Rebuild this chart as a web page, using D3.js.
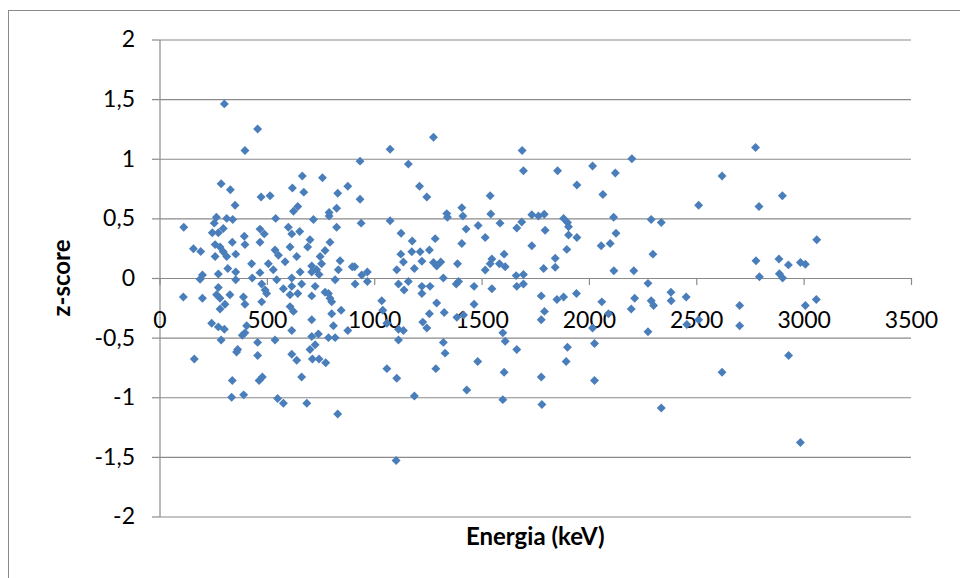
<!DOCTYPE html>
<html>
<head>
<meta charset="utf-8">
<script src="https://cdn.jsdelivr.net/npm/d3@7"></script>
<style>
  html, body { margin: 0; padding: 0; background: #fff; }
  svg { display: block; }
  text { font-family: Lato, "Open Sans", sans-serif; fill: #000; }
</style>
</head>
<body>
<svg id="chart" width="960" height="578"></svg>
<script>
// Gamma energy (keV) and z-score of each measured line
const energy = [
  302,457,398,665,759,287,330,619,672,877,473,515,830,352,624,644,825,790,790,265,
  313,341,255,541,717,113,600,825,297,274,246,468,488,616,653,395,701,339,468,398,
  259,282,794,158,192,608,690,297,355,538,554,639,771,259,313,748,429,585,507,841,
  318,530,709,732,755,833,898,200,274,355,468,655,709,743,189,355,432,546,616,818,
  274,476,492,577,616,662,725,771,111,200,266,282,328,305,391,398,476,499,608,644,
  709,787,802,794,608,624,282,802,846,243,274,302,287,406,398,386,457,538,616,709,
  709,740,787,818,810,877,701,725,364,359,162,457,616,639,712,743,774,479,464,662,
  339,336,392,550,577,686,830,
  1276,1074,1689,934,1159,1695,1211,1245,934,1540,1408,1338,1341,1413,1543,1734,1765,939,1074,1586,
  1687,1664,1484,1428,1125,1517,1284,1177,1408,1734,1175,1214,1257,1124,1605,1136,1222,1276,1310,1291,
  1388,1548,1540,1583,1610,909,1105,1187,1517,942,968,1661,1695,1322,
  911,968,1113,1159,1139,1222,1260,1222,1382,1393,1465,1548,1664,1695,1035,1291,1465,1040,1257,1326,
  1385,1416,1059,1226,1245,1113,1136,1599,1610,1113,1322,1330,1664,1482,1059,1287,1105,1605,1431,1187,
  1599,1102,
  2200,2017,1854,2123,2620,1944,2065,2511,1792,1882,2115,2290,2337,1900,1905,1796,2126,1905,1944,2099,
  2057,1897,2298,1843,1789,1843,2116,2209,2275,
  1778,1851,1882,1942,2060,2213,2290,2301,2382,2383,2453,1793,1778,2197,2091,2017,2275,2456,2511,1900,
  2026,1894,2620,1778,2026,1781,2337,
  2776,2901,2792,3061,2778,2885,2929,2985,3008,2794,2887,2902,
  2702,3008,3059,2702,2930,2985
];
const zScore = [
  1.46,1.25,1.07,0.855,0.84,0.79,0.74,0.755,0.72,0.77,0.68,0.69,0.71,0.61,0.56,0.60,0.585,0.55,0.52,0.51,
  0.50,0.49,0.46,0.50,0.49,0.425,0.425,0.425,0.415,0.38,0.38,0.41,0.37,0.37,0.39,0.35,0.32,0.30,0.30,0.28,
  0.28,0.26,0.30,0.246,0.223,0.26,0.26,0.22,0.20,0.235,0.19,0.18,0.23,0.18,0.18,0.18,0.12,0.136,0.12,0.145,
  0.08,0.07,0.10,0.07,0.12,0.07,0.095,0.025,0.034,0.05,0.045,0.05,0.05,0.03,-0.01,-0.015,0.0,-0.015,0.0,-0.015,
  -0.08,-0.05,-0.10,-0.09,-0.07,-0.05,-0.07,-0.12,-0.16,-0.17,-0.14,-0.17,-0.14,-0.22,-0.16,-0.22,-0.20,-0.13,-0.14,-0.13,
  -0.15,-0.13,-0.20,-0.17,-0.24,-0.28,-0.26,-0.30,-0.27,-0.38,-0.41,-0.43,-0.52,-0.40,-0.46,-0.48,-0.54,-0.52,-0.44,-0.35,
  -0.49,-0.47,-0.50,-0.50,-0.40,-0.44,-0.60,-0.56,-0.60,-0.62,-0.68,-0.65,-0.64,-0.69,-0.68,-0.68,-0.71,-0.83,-0.86,-0.83,
  -0.86,-1.00,-0.98,-1.01,-1.05,-1.05,-1.14,
  1.18,1.08,1.07,0.98,0.955,0.90,0.77,0.68,0.66,0.69,0.59,0.54,0.51,0.52,0.536,0.53,0.52,0.46,0.48,0.46,
  0.47,0.42,0.44,0.41,0.375,0.34,0.33,0.31,0.29,0.27,0.22,0.22,0.235,0.20,0.20,0.134,0.14,0.13,0.134,0.10,
  0.12,0.16,0.12,0.12,0.095,0.095,0.07,0.08,0.067,0.025,0.05,0.02,0.03,0.0,
  -0.05,-0.03,-0.05,-0.03,-0.10,-0.07,-0.07,-0.13,-0.05,-0.03,-0.07,-0.09,-0.07,-0.05,-0.19,-0.21,-0.22,-0.27,-0.30,-0.29,
  -0.33,-0.31,-0.38,-0.37,-0.42,-0.43,-0.44,-0.46,-0.53,-0.52,-0.54,-0.63,-0.60,-0.70,-0.76,-0.76,-0.84,-0.79,-0.94,-0.99,
  -1.02,-1.53,
  1.0,0.94,0.90,0.88,0.855,0.78,0.70,0.61,0.535,0.50,0.51,0.49,0.465,0.465,0.43,0.40,0.375,0.36,0.34,0.29,
  0.27,0.24,0.20,0.165,0.08,0.09,0.06,0.06,-0.045,
  -0.15,-0.18,-0.16,-0.13,-0.20,-0.17,-0.19,-0.23,-0.12,-0.19,-0.16,-0.28,-0.35,-0.26,-0.30,-0.42,-0.45,-0.39,-0.35,-0.58,
  -0.55,-0.70,-0.79,-0.83,-0.86,-1.06,-1.09,
  1.095,0.69,0.60,0.32,0.145,0.16,0.11,0.13,0.115,0.01,0.035,0.0,
  -0.23,-0.23,-0.18,-0.40,-0.65,-1.38
];

const xTicks = [0, 500, 1000, 1500, 2000, 2500, 3000, 3500];
const yTicks = [-2, -1.5, -1, -0.5, 0, 0.5, 1, 1.5, 2];
const xTitle = "Energia (keV)";
const yTitle = "z-score";

const svg = d3.select("#chart");
const plot = { left: 159.5, right: 911, top: 39.5, bottom: 516.5 };
const gridColor = "#8a8a8a";
const markerColor = "#4a7ebb";

const x = d3.scaleLinear().domain([0, 3500]).range([plot.left, plot.right]);
const y = d3.scaleLinear().domain([-2, 2]).range([plot.bottom, plot.top]);

const fmt = v => String(v).replace(".", ",");

// outer chart frame
svg.append("rect")
  .attr("x", 8.5).attr("y", 10.5)
  .attr("width", 960).attr("height", 600)
  .attr("fill", "none").attr("stroke", gridColor).attr("stroke-width", 1);

// horizontal gridlines
svg.append("g")
  .attr("transform", `translate(${plot.left},0)`)
  .call(d3.axisLeft(y).tickValues(yTicks).tickSize(-(plot.right - plot.left)).tickFormat(""))
  .call(g => g.select(".domain").remove())
  .call(g => g.selectAll("line").attr("stroke", gridColor).attr("stroke-width", 1.2));

// vertical axis with outward ticks
const yAxis = svg.append("g")
  .attr("transform", `translate(${plot.left},0)`)
  .call(d3.axisLeft(y).tickValues(yTicks).tickSizeInner(7.5).tickSizeOuter(0).tickPadding(17).tickFormat(fmt));
yAxis.select(".domain").attr("stroke", gridColor).attr("stroke-width", 1.2);
yAxis.selectAll("line").attr("stroke", gridColor).attr("stroke-width", 1.2);
yAxis.selectAll("text").attr("font-size", 23).attr("font-family", "Lato, sans-serif").attr("fill", "#000");

// horizontal axis crossing at z = 0
const xAxis = svg.append("g")
  .attr("transform", `translate(0,${y(0)})`)
  .call(d3.axisBottom(x).tickValues(xTicks).tickSizeInner(7).tickSizeOuter(0).tickPadding(27).tickFormat(d => d));
xAxis.select(".domain").attr("stroke", gridColor).attr("stroke-width", 1.2);
xAxis.selectAll("line").attr("stroke", gridColor).attr("stroke-width", 1.2);
xAxis.selectAll("text").attr("font-size", 23).attr("font-family", "Lato, sans-serif").attr("fill", "#000");

// points
const diamond = d3.symbol().type(d3.symbolSquare).size(40);
svg.append("g")
  .selectAll("path")
  .data(d3.zip(energy, zScore))
  .join("path")
  .attr("d", diamond)
  .attr("transform", d => `translate(${x(d[0])},${y(d[1])}) rotate(45)`)
  .attr("fill", markerColor);

// axis titles
svg.append("text")
  .attr("x", (plot.left + plot.right) / 2)
  .attr("y", 545)
  .attr("text-anchor", "middle")
  .attr("font-size", 24)
  .attr("font-weight", "bold")
  .text(xTitle);

svg.append("text")
  .attr("transform", `translate(70,${y(0)}) rotate(-90)`)
  .attr("text-anchor", "middle")
  .attr("font-size", 24)
  .attr("font-weight", "bold")
  .text(yTitle);
</script>
</body>
</html>
